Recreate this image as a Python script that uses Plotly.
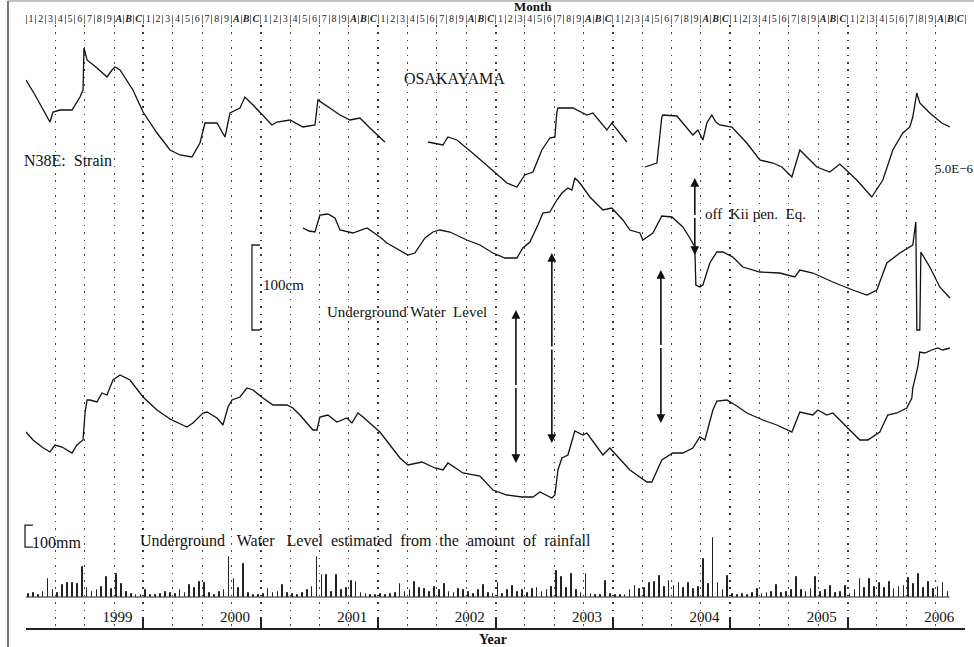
import plotly.graph_objects as go

W, H = 974, 647
FONT = "Liberation Serif, Times New Roman, serif"

# ---------------- data ----------------
month_labels = ["1", "2", "3", "4", "5", "6", "7", "8", "9",
                "<b><i>A</i></b>", "<b><i>B</i></b>", "<b><i>C</i></b>"]
years = [1999, 2000, 2001, 2002, 2003, 2004, 2005, 2006]
year_labels = ["1999", "2000", "2001", "2002", "2003", "2004", "2005", "2006"]

# N38E strain (relative units), three recorded segments separated by None
strain_year = [1999.000, 1999.077, 1999.204, 1999.230, 1999.290, 1999.392, 1999.460, 1999.486,
               1999.494, 1999.520, 1999.605, 1999.690, 1999.733, 1999.758, 1999.801, 1999.911,
               1999.997, 2000.116, 2000.227, 2000.312, 2000.414, 2000.482, 2000.525, 2000.627,
               2000.695, 2000.738, 2000.823, 2000.865, 2000.934, 2001.053, 2001.095, 2001.138,
               2001.249, 2001.359, 2001.462, 2001.487, 2001.547, 2001.675, 2001.760, 2001.845,
               2001.930, 2002.058, None,
               2002.424, 2002.552, 2002.595, 2002.671, 2002.825, 2002.952, 2003.097, 2003.182,
               2003.250, 2003.319, 2003.395, 2003.463, 2003.506, 2003.523, 2003.532, 2003.659,
               2003.779, 2003.830, 2003.949, 2003.991, 2004.119, None,
               2004.273, 2004.375, 2004.417, 2004.426, 2004.545, 2004.630, 2004.681, 2004.724,
               2004.767, 2004.801, 2004.843, 2004.877, 2004.911, 2005.014, 2005.141, 2005.252,
               2005.363, 2005.440, 2005.525, 2005.593, 2005.678, 2005.738, 2005.848, 2005.934,
               2006.078, 2006.206, 2006.300, 2006.385, 2006.470, 2006.530, 2006.555, 2006.589,
               2006.615, 2006.700, 2006.802, 2006.871]
strain_val = [548, 533, 506, 516, 518, 518, 531, 538,
              580, 568, 560, 551, 558, 561, 558, 538,
              516, 495, 478, 473, 471, 485, 505, 505,
              491, 515, 520, 531, 523, 508, 503, 506,
              508, 501, 503, 528, 523, 513, 508, 510,
              500, 486, None,
              486, 483, 491, 488, 473, 460, 445, 441,
              453, 456, 478, 490, 491, 516, 520, 520,
              513, 515, 498, 505, 486, None,
              461, 465, 511, 513, 512, 500, 493, 498,
              488, 505, 513, 506, 503, 501, 485, 468,
              465, 461, 451, 478, 468, 461, 456, 464,
              448, 431, 448, 478, 495, 501, 511, 535,
              525, 515, 505, 501]

# Underground water level (relative units)
water_year = [2001.359, 2001.411, 2001.462, 2001.504, 2001.572, 2001.632, 2001.675, 2001.785,
              2001.905, 2002.015, 2002.075, 2002.186, 2002.254, 2002.313, 2002.399, 2002.467,
              2002.526, 2002.612, 2002.756, 2002.867, 2002.978, 2003.080, 2003.182, 2003.233,
              2003.293, 2003.361, 2003.404, 2003.463, 2003.523, 2003.566, 2003.617, 2003.651,
              2003.676, 2003.719, 2003.804, 2003.915, 2003.991, 2004.085, 2004.145, 2004.230,
              2004.256, 2004.341, 2004.417, 2004.503, 2004.596, 2004.656, 2004.698, 2004.707,
              2004.741, 2004.767, 2004.826, 2004.886, 2004.937, 2005.022, 2005.107, 2005.252,
              2005.422, 2005.550, 2005.593, 2005.704, 2005.874, 2006.044, 2006.164, 2006.249,
              2006.334, 2006.445, 2006.555, 2006.581, 2006.590, 2006.615, 2006.624, 2006.700,
              2006.785, 2006.871]
water_val = [400, 397, 396, 413, 414, 410, 398, 395,
             400, 391, 385, 378, 373, 375, 390, 396,
             398, 396, 388, 383, 375, 370, 370, 380,
             386, 403, 415, 416, 428, 435, 440, 438,
             450, 445, 431, 418, 420, 408, 398, 395,
             388, 395, 412, 411, 401, 390, 381, 343,
             341, 343, 365, 376, 376, 371, 361, 356,
             355, 351, 358, 355, 346, 338, 333, 338,
             365, 375, 383, 406, 298, 298, 376, 361,
             341, 330]

# Underground water level estimated from rainfall (relative units)
est_year = [1999.000, 1999.060, 1999.136, 1999.204, 1999.247, 1999.307, 1999.392, 1999.434,
            1999.486, 1999.503, 1999.520, 1999.545, 1999.605, 1999.647, 1999.690, 1999.741,
            1999.801, 1999.886, 1999.997, 2000.116, 2000.227, 2000.371, 2000.422, 2000.508,
            2000.542, 2000.627, 2000.678, 2000.721, 2000.755, 2000.823, 2000.882, 2000.934,
            2001.019, 2001.104, 2001.223, 2001.274, 2001.334, 2001.445, 2001.479, 2001.504,
            2001.572, 2001.649, 2001.734, 2001.777, 2001.828, 2001.871, 2002.015, 2002.186,
            2002.254, 2002.373, 2002.484, 2002.552, 2002.595, 2002.722, 2002.867, 2002.978,
            2003.097, 2003.225, 2003.319, 2003.378, 2003.480, 2003.506, 2003.532, 2003.566,
            2003.617, 2003.676, 2003.744, 2003.779, 2003.915, 2003.974, 2004.145, 2004.290,
            2004.332, 2004.417, 2004.511, 2004.596, 2004.681, 2004.741, 2004.784, 2004.852,
            2004.886, 2004.971, 2005.056, 2005.141, 2005.278, 2005.397, 2005.525, 2005.593,
            2005.704, 2005.746, 2005.823, 2005.874, 2005.993, 2006.104, 2006.172, 2006.274,
            2006.342, 2006.419, 2006.504, 2006.547, 2006.555, 2006.598, 2006.615, 2006.658,
            2006.717, 2006.768, 2006.811, 2006.871]
est_val = [196, 188, 181, 176, 183, 181, 175, 183,
           188, 215, 228, 228, 226, 235, 233, 248,
           253, 248, 231, 218, 209, 201, 205, 215,
           216, 210, 203, 221, 228, 231, 240, 238,
           230, 223, 223, 220, 213, 198, 198, 211,
           213, 206, 210, 205, 215, 211, 196, 170,
           163, 166, 160, 158, 165, 155, 152, 138,
           133, 131, 131, 136, 130, 133, 158, 170,
           173, 197, 193, 195, 173, 180, 158, 146,
           146, 168, 175, 175, 180, 191, 188, 218,
           227, 228, 222, 215, 208, 203, 196, 216,
           213, 218, 213, 215, 201, 188, 188, 196,
           213, 215, 220, 230, 240, 261, 276, 275,
           278, 280, 278, 280]

# Rainfall (mm), half-monthly totals from January 1999
rain_mm = [15, 20, 10, 25, 80, 30, 20, 55, 65, 65, 60, 135, 40, 25, 30, 45,
           90, 35, 105, 60, 25, 15, 10, 8, 30, 10, 8, 15, 25, 20, 15, 30,
           20, 55, 40, 70, 65, 20, 10, 25, 30, 180, 80, 40, 150, 20, 10, 8,
           15, 35, 20, 25, 55, 20, 15, 10, 20, 30, 45, 180, 100, 100, 25, 100,
           30, 40, 75, 70, 20, 15, 10, 8, 12, 10, 15, 20, 60, 25, 30, 70,
           40, 35, 25, 45, 30, 60, 25, 20, 35, 30, 25, 15, 30, 55, 20, 15,
           65, 15, 30, 50, 25, 30, 20, 35, 40, 25, 30, 45, 120, 90, 40, 105,
           30, 20, 105, 15, 10, 8, 75, 15, 10, 8, 10, 30, 50, 35, 40, 65,
           70, 95, 45, 75, 50, 65, 40, 65, 35, 45, 175, 60, 270, 65, 30, 95,
           15, 10, 15, 8, 20, 35, 15, 20, 25, 55, 20, 25, 30, 90, 30, 25,
           35, 90, 25, 30, 50, 20, 25, 50, 15, 30, 80, 40, 80, 45, 65, 40,
           70, 35, 45, 50, 85, 60, 105, 40, 70, 35, 45, 65, 25]
rain_x = [1999 + (k + 0.5) / 24 for k in range(len(rain_mm))]

# ---------------- geometry ----------------
PX0, PX1 = 26, 965      # plot area, pixels
PY0, PY1 = 25, 628
xdom = [PX0 / W, PX1 / W]
ydom = [1 - PY1 / H, 1 - PY0 / H]
YR = [0, PY1 - PY0]                       # curves: 1 unit per pixel
MM_PER_PX = 100 / 22.0                    # rainfall scale (100 mm bar)
RAIN_BASE = 597
Y2R = [-(PY1 - RAIN_BASE) * MM_PER_PX, (RAIN_BASE - PY0) * MM_PER_PX]


def px(x):
    return x / W


def py(y):
    return 1 - y / H


fig = go.Figure()

fig.add_trace(go.Bar(x=rain_x, y=rain_mm, yaxis="y2", width=0.006,
                     marker=dict(color="#222", line=dict(color="#222", width=1)),
                     showlegend=False))
for xs, ys in [(strain_year, strain_val), (water_year, water_val), (est_year, est_val)]:
    fig.add_trace(go.Scatter(x=xs, y=ys, mode="lines", connectgaps=False,
                             line=dict(color="#111", width=1.3), showlegend=False))

month_centers = [y + (m + 0.5) / 12 for y in years for m in range(12)]
month_edges = [y + m / 12 for y in years for m in range(12)] + [2007]

dotdash = "1.6px,5.8px"
fig.update_layout(
    width=W, height=H, autosize=False,
    margin=dict(l=0, r=0, t=0, b=0),
    paper_bgcolor="white", plot_bgcolor="white",
    font=dict(family=FONT, color="#111"),
    bargap=0,
    xaxis=dict(domain=xdom, range=[1999, 2007], anchor="y",
               tickmode="array", tickvals=years + [2007], ticktext=[""] * 9,
               ticks="inside", ticklen=10, tickwidth=1.5, tickcolor="#222",
               showline=True, linecolor="#222", linewidth=1.5,
               showgrid=True, gridcolor="#333", gridwidth=1.6, griddash=dotdash,
               minor=dict(tickmode="linear", tick0=1999, dtick=0.25, showgrid=True,
                          gridcolor="#444", gridwidth=1.4, griddash=dotdash, ticks=""),
               zeroline=False),
    xaxis2=dict(overlaying="x", side="top", anchor="y", range=[1999, 2007],
                tickmode="array", tickvals=month_centers, ticktext=month_labels * len(years),
                tickangle=0, ticks="", showgrid=False, showline=False, zeroline=False,
                tickfont=dict(family=FONT, size=10, color="#222"), ticklabelstandoff=0,
                minor=dict(tickmode="array", tickvals=month_edges, ticks="outside",
                           ticklen=9, tickwidth=1, tickcolor="#777", showgrid=False)),
    xaxis3=dict(overlaying="x", side="bottom", anchor="y", range=[1999, 2007],
                tickmode="array", tickvals=[y + 0.78 for y in years], ticktext=year_labels,
                tickangle=0, ticks="", ticklabelposition="inside", showgrid=False,
                showline=False, zeroline=False,
                tickfont=dict(family=FONT, size=15, color="#111")),
    yaxis=dict(domain=ydom, range=YR, visible=False, fixedrange=True),
    yaxis2=dict(overlaying="y", range=Y2R, visible=False),
)
# attach an invisible trace to each extra x axis so they render
fig.add_trace(go.Scatter(x=[1999], y=[None], xaxis="x2", showlegend=False, hoverinfo="skip"))
fig.add_trace(go.Scatter(x=[1999], y=[None], xaxis="x3", showlegend=False, hoverinfo="skip"))

shapes = [
    # rainfall baseline
    dict(type="line", xref="x", yref="y2", x0=1999.0, x1=2006.87, y0=0, y1=0,
         line=dict(color="#222", width=1.2)),
    # 100 cm scale bar
    dict(type="path", xref="x", yref="y",
         path="M 2000.993 383 L 2000.925 383 L 2000.925 298 L 2000.993 298",
         line=dict(color="#222", width=1.3)),
    # 100 mm scale bar
    dict(type="path", xref="paper", yref="y2",
         path=f"M {px(33)} 327 L {px(25)} 327 L {px(25)} 227 L {px(33)} 227",
         line=dict(color="#222", width=1.3)),
    # outer frame (left and top)
    dict(type="line", xref="paper", yref="paper", x0=px(8), x1=px(8), y0=0, y1=py(1),
         line=dict(color="#777", width=2)),
    dict(type="line", xref="paper", yref="paper", x0=px(8), x1=1, y0=py(1), y1=py(1),
         line=dict(color="#888", width=1.2)),
]
fig.update_layout(shapes=shapes)

ann = []


def text(t, x, y, size=15, anchor="left"):
    ann.append(dict(text=t, x=px(x), y=py(y), xref="paper", yref="paper",
                    xanchor=anchor, yanchor="middle", showarrow=False, borderpad=0,
                    font=dict(family=FONT, size=size, color="#111")))


text("<b>Month</b>", 533, 6.5, 13, "center")
text("OSAKAYAMA", 403, 78, 16)
text("N38E:  Strain", 23, 161, 16)
text("100cm", 262, 285, 15)
text("Underground Water  Level", 326, 312, 15)
text("off  Kii pen.  Eq.", 704, 214, 15)
text("5.0E−6", 934, 168, 13)
text("100mm", 31, 542, 16)
text("Underground   Water   Level  estimated  from  the  amount  of  rainfall", 139, 541, 16)
text("<b>Year</b>", 493, 639, 14, "center")


def darrow(x, v_top, v_bot):
    half = (v_top - v_bot) / 2.0
    for v, ay in [(v_top, half), (v_bot, -half)]:
        ann.append(dict(x=x, y=v, xref="x", yref="y", ax=0, ay=ay, text="",
                        showarrow=True, arrowhead=2, arrowsize=1.1, arrowwidth=1.6,
                        arrowcolor="#111"))


darrow(2003.174, 318, 165)
darrow(2003.480, 375, 185)
darrow(2004.409, 358, 205)
darrow(2004.698, 450, 373)

fig.update_layout(annotations=ann)
fig.write_html("out.html", config={"displayModeBar": False},
               post_script="document.body.style.margin='0';document.body.style.padding='0';")
